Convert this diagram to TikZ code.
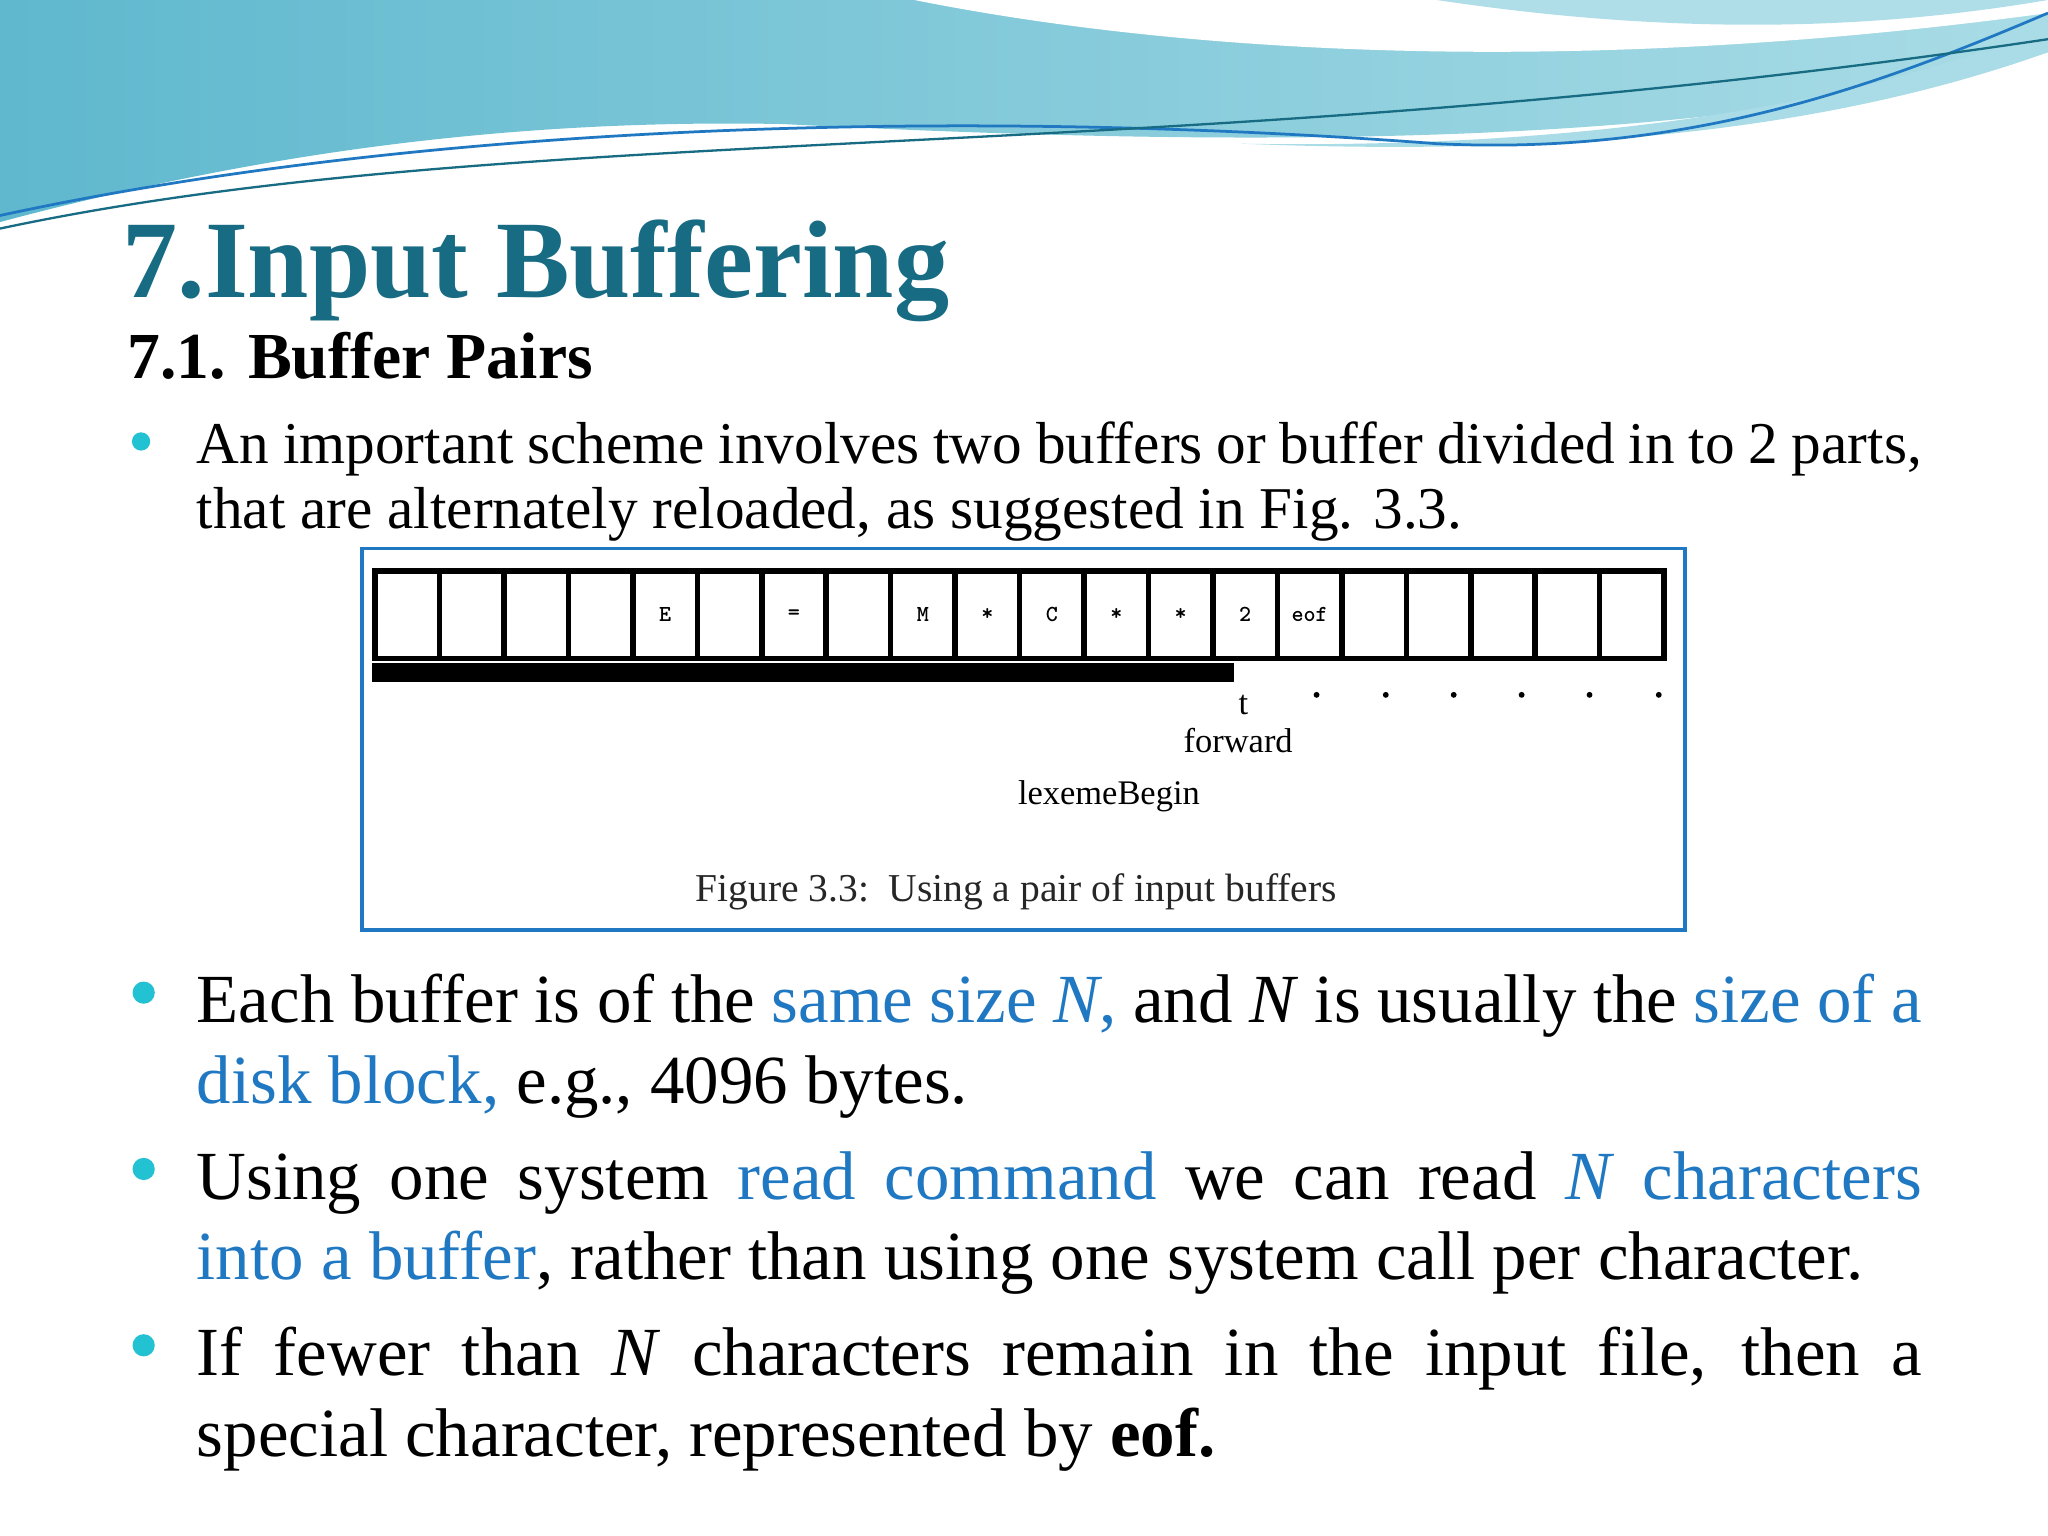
\documentclass[tikz,border=0pt]{standalone}
\usepackage{fontspec}
\setmainfont{Liberation Serif}
\definecolor{ttl}{HTML}{176B82}
\definecolor{hl}{HTML}{1F78C1}
\definecolor{bul}{HTML}{22C2D2}
\definecolor{wv1}{HTML}{5FB8CE}
\definecolor{wv2}{HTML}{A9DCE6}
\definecolor{wv3}{HTML}{7CC9D9}
\newcommand{\fs}[1]{\fontsize{#1pt}{#1pt}\selectfont}
\newcommand{\hlt}[1]{\textcolor{hl}{#1}}
\begin{document}
\begin{tikzpicture}[x=0.01cm,y=-0.01cm,
  line/.style={anchor=base west,inner sep=0pt},
  bdot/.style={circle,fill=bul,inner sep=0pt,minimum size=0.17cm},
  cell/.style={draw=black,line width=1.2pt,minimum width=0.4935cm,minimum height=0.67cm,inner sep=0pt,anchor=north west,font=\ttfamily\bfseries\fs{5}},
  dt/.style={circle,fill=black,inner sep=0pt,minimum size=0.045cm}]
\useasboundingbox (0,0) rectangle (1568,1176);
\fill[white] (0,0) rectangle (1568,1176);
% waves
\shade[left color=wv1,right color=wv2] (0,0) -- (1568,0) -- (1568,40) .. controls (1300,120) and (900,110) .. (600,95) .. controls (350,90) and (150,130) .. (0,170) -- cycle;
\fill[white] (700,0) .. controls (900,40) and (1200,60) .. (1568,10) -- (1568,0) -- cycle;
\fill[wv3,opacity=0.6] (1100,0) .. controls (1300,30) and (1450,20) .. (1568,0) -- cycle;
\fill[wv2] (950,110) .. controls (1250,115) and (1450,70) .. (1568,20) -- (1568,40) .. controls (1400,100) and (1200,120) .. (950,110) -- cycle;
\draw[hl,line width=0.6pt] (0,165) .. controls (300,100) and (700,80) .. (1100,110) .. controls (1300,120) and (1450,60) .. (1568,10);
\draw[ttl,line width=0.5pt] (0,175) .. controls (400,90) and (900,130) .. (1568,30);
% title
\node[line,text=ttl,font=\bfseries\fs{24}] (title) at (93,228) {7.Input Buffering};
\node[line,font=\bfseries\fs{14.3}] (sub) at (97,290) {7.1. Buffer Pairs};
% bullet 1
\node[bdot,minimum size=0.14cm] (b1) at (108,338) {};
\node[line,font=\fs{12.9}] (l1a) at (150,355) {\makebox[13.2cm][s]{An important scheme involves two buffers or buffer divided in to 2 parts,}};
\node[line,font=\fs{12.9}] (l1b) at (150,405) {that are alternately reloaded, as suggested in Fig. 3.3.};
% figure
\draw[hl,line width=0.8pt] (277,420) rectangle (1290,712);
\foreach \i/\t in {0/,1/,2/,3/,4/E,5/,6/=,7/,8/M,9/*,10/C,11/*,12/*,13/2,14/eof,15/,16/,17/,18/,19/} {
  \node[cell] (c\i) at ({285+\i*49.35},435) {\raisebox{-2pt}{\t}};
}
\draw[line width=4pt] (285,515) -- (945,515);
\node[inner sep=0pt,font=\fs{7.5}] (tmk) at (952,540) {t};
\foreach \x/\n in {1008/1,1061/2,1113/3,1165/4,1217/5,1270/6} {\node[dt] (d\n) at (\x,532) {};}
\node[line,anchor=base,font=\fs{7.5}] (fw) at (948,576) {forward};
\node[line,anchor=base,font=\fs{7.5}] (lb) at (849,616) {lexemeBegin};
\node[line,anchor=base,font=\fs{8.6},text=black!85] (cap) at (778,690) {Figure 3.3:\ \ Using a pair of input buffers};
% bullet 2
\node[bdot] (b2) at (110,760) {};
\node[line,font=\fs{15}] (l2a) at (150,783) {\makebox[13.2cm][s]{Each buffer is of the \hlt{same size \textit{N},} and \textit{N} is usually the \hlt{size of a}}};
\node[line,font=\fs{15}] (l2b) at (150,845) {\hlt{disk block,} e.g., 4096 bytes.};
% bullet 3
\node[bdot] (b3) at (110,895) {};
\node[line,font=\fs{15}] (l3a) at (150,918) {\makebox[13.2cm][s]{Using one system \hlt{read command} we can read \hlt{\textit{N} characters}}};
\node[line,font=\fs{15}] (l3b) at (150,980) {\hlt{into a buffer}, rather than using one system call per character.};
% bullet 4
\node[bdot] (b4) at (110,1030) {};
\node[line,font=\fs{15}] (l4a) at (150,1053) {\makebox[13.2cm][s]{If fewer than \textit{N} characters remain in the input file, then a}};
\node[line,font=\fs{15}] (l4b) at (150,1115) {special character, represented by \textbf{eof.}};
\end{tikzpicture}
\end{document}
